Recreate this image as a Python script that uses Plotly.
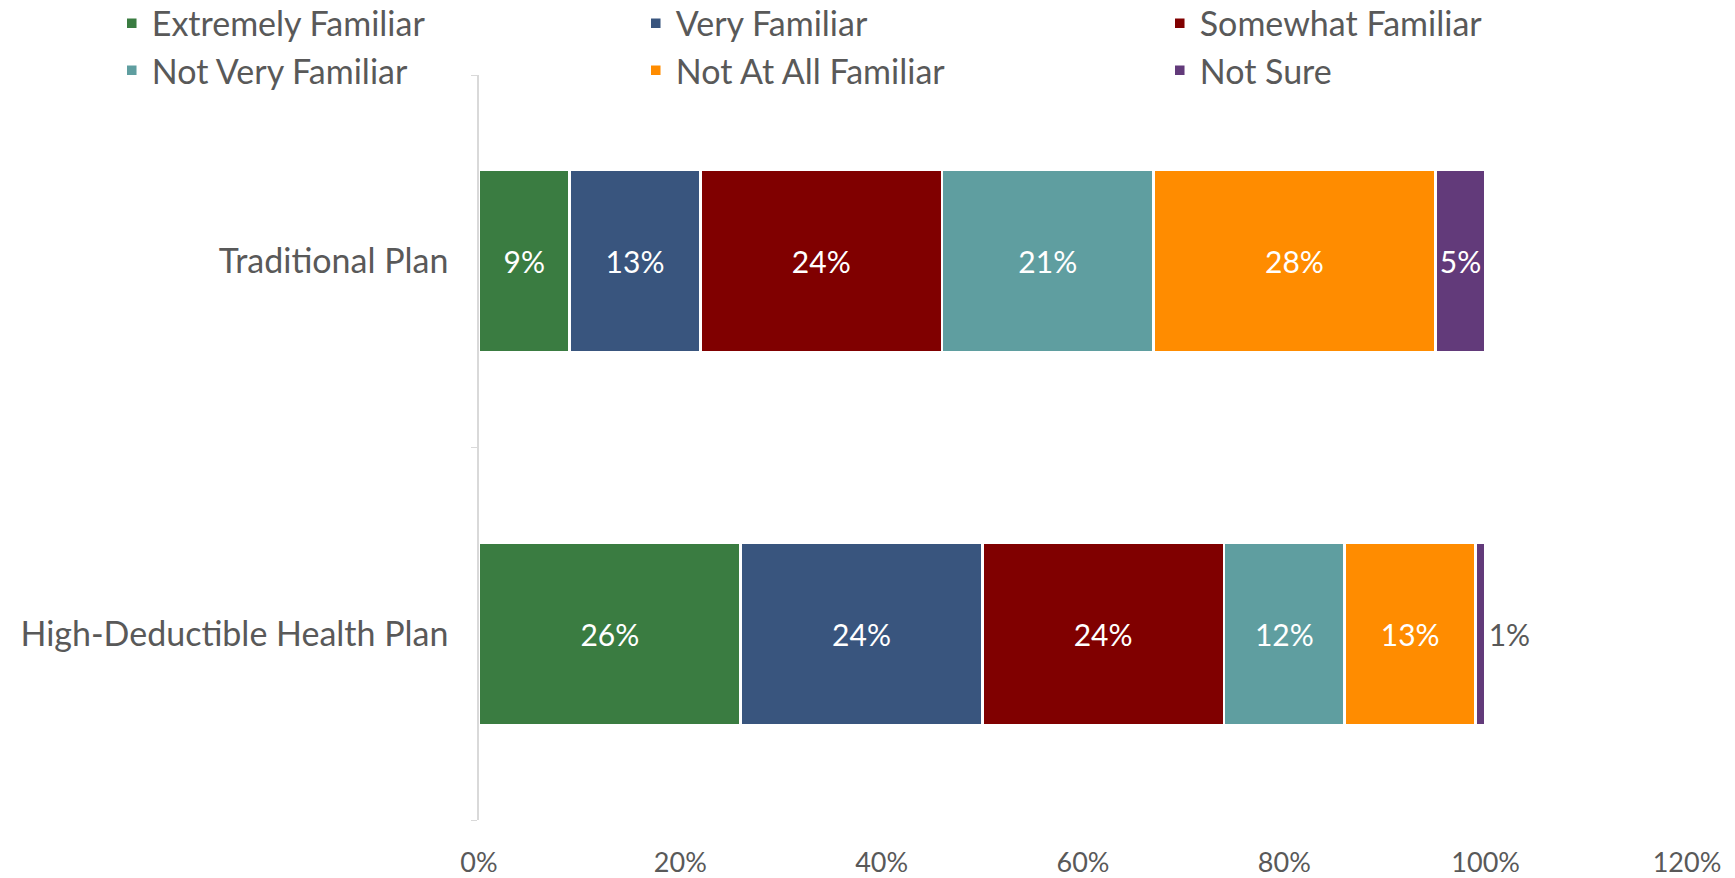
import plotly.graph_objects as go

categories = ["Traditional Plan", "High-Deductible Health Plan"]
series_names = ["Extremely Familiar", "Very Familiar", "Somewhat Familiar",
                "Not Very Familiar", "Not At All Familiar", "Not Sure"]
extremely = [9, 26]
very = [13, 24]
somewhat = [24, 24]
not_very = [21, 12]
not_at_all = [28, 13]
not_sure = [5, 1]
x_ticks = [0, 20, 40, 60, 80, 100, 120]
x_tick_labels = ["0%", "20%", "40%", "60%", "80%", "100%", "120%"]

colors = ["#3A7C41", "#39557E", "#800000", "#5F9EA0", "#FF8C00", "#623A7A"]
values = [extremely, very, somewhat, not_very, not_at_all, not_sure]

FONT = "Lato"
GRAY = "#595959"

fig = go.Figure()
for name, vals, col in zip(series_names, values, colors):
    if name == "Not Sure":
        tpos = ["inside" if v >= 3 else "outside" for v in vals]
    else:
        tpos = "inside"
    fig.add_trace(go.Bar(
        y=categories, x=vals, name=name, orientation="h",
        marker=dict(color=col, line=dict(color="white", width=2.5)),
        texttemplate="%{x}%", textposition=tpos,
        insidetextanchor="middle",
        insidetextfont=dict(color="white", size=30, family=FONT),
        outsidetextfont=dict(color=GRAY, size=30, family=FONT),
        constraintext="none", cliponaxis=False,
    ))

fig.update_layout(
    width=1735, height=878,
    barmode="stack", bargap=0.51,
    plot_bgcolor="white", paper_bgcolor="white",
    font=dict(family=FONT, color=GRAY, size=30),
    margin=dict(l=471, r=56, t=67, b=66, autoexpand=False),
    showlegend=True,
    legend=dict(orientation="h", xref="paper", yref="paper",
                x=-0.304, y=1.108, xanchor="left", yanchor="top",
                entrywidth=479, entrywidthmode="pixels",
                font=dict(size=34, family=FONT, color=GRAY),
                traceorder="normal", itemwidth=30, bgcolor="rgba(0,0,0,0)"),
    uniformtext=dict(mode=False),
)
fig.update_xaxes(range=[0, 120], tickvals=x_ticks, ticktext=x_tick_labels,
                 showgrid=False, zeroline=False, showline=False,
                 ticks="", ticklabelstandoff=24,
                 tickfont=dict(size=27, family=FONT, color=GRAY))
fig.update_yaxes(categoryorder="array", categoryarray=categories[::-1],
                 showline=True, linecolor="#d9d9d9", linewidth=1.5,
                 ticks="outside", tickson="boundaries", ticklen=6, tickcolor="#d9d9d9",
                 showgrid=False, ticklabelstandoff=22,
                 tickfont=dict(size=34, family=FONT, color=GRAY))

fig.write_html("out.html")
